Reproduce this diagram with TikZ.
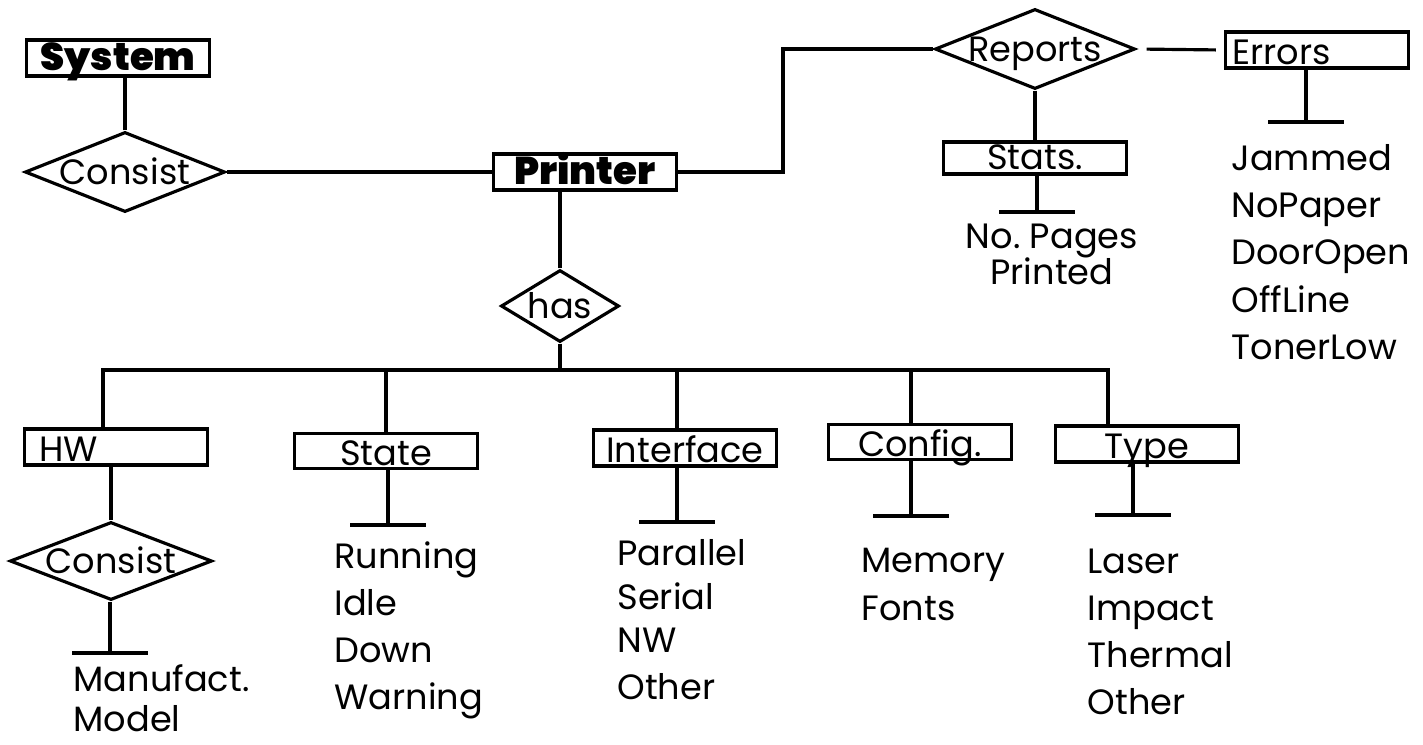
\documentclass[tikz,border=0pt]{standalone}
\usepackage{fontspec}
\setmainfont{Poppins}
\newfontfamily\heavyfont{Poppins Black}
\usepackage{tikz}
\usetikzlibrary{shapes.geometric, positioning}

\begin{document}
\begin{tikzpicture}[
  x=0.01cm, y=-0.01cm,
  line width=0.9pt,
  font=\fontsize{10pt}{13.4pt}\selectfont,
  ent/.style={rectangle, draw, minimum width=1.83cm, minimum height=0.36cm, inner sep=0pt,
              text height=0.30cm, text depth=0.02cm},
  entb/.style={ent, text height=0.27cm, text depth=0.03cm, font=\fontsize{11pt}{13pt}\selectfont\heavyfont},
  entl/.style={ent, align=left},
  rel/.style={diamond, draw, inner sep=0pt, minimum width=#1, minimum height=0.8cm},
  every label/.style={inner sep=0pt, text height=0.27cm, text depth=0.03cm},
  attr/.style={inner sep=0pt, align=left},
]
  \useasboundingbox (0,0) rectangle (1423,744);

  % Top part
  \node[entb] (system) at (118,58) {System};
  \node[rel=2cm, label=center:Consist] (cons1) at (125,172) {};
  \node[entb] (printer) at (585,172) {Printer};
  \node[rel=1.18cm, minimum height=0.72cm, label=center:has] (has) at (560,306) {};
  \node[rel=2cm, label=center:Reports] (reports) at (1035,49) {};
  \node[ent, minimum height=0.3cm, text height=0.27cm, text depth=0.05cm] (stats) at (1035,158) {Stats.};
  \node[entl, text width=1.69cm, inner xsep=0.07cm] (errors) at (1317,50) {Errors};

  % Entities under has
  \node[entl, text width=1.53cm, inner xsep=0.15cm] (hw) at (116,447) {HW};
  \node[rel=2.02cm, minimum height=0.78cm, label=center:Consist] (cons2) at (111,561) {};
  \node[ent, minimum height=0.35cm] (state) at (386,451) {State};
  \node[ent] (iface) at (685,448) {Interface};
  \node[ent, minimum height=0.35cm] (config) at (920,442) {Config.};
  \node[ent] (type) at (1147,444) {Type};

  \coordinate (busL) at (103,370);
  \coordinate (busR) at (1108,370);
  \coordinate (jog) at (783,172);
  \coordinate (hwbar) at (110,653);
  \coordinate (statebar) at (388,525);
  \coordinate (ifacebar) at (677,522);
  \coordinate (configbar) at (911,516);
  \coordinate (typebar) at (1133,515);
  \coordinate (statsbar) at (1037,212);
  \coordinate (errbar) at (1306,122);

  % Links
  \draw (cons1.north) -- (cons1.north |- system.south);
  \draw (cons1.east) -- (printer.west);
  \draw (printer.east) -- (jog) |- (reports.west);
  \draw[shorten <=0.1cm, shorten >=0.08cm] (reports.east) -- (errors.west);
  \draw (reports.south) -- (stats.north);
  \draw (has.north) -- (has.north |- printer.south);
  \draw (has.south) -- (has.south |- busL);
  \draw (busL |- hw.north) -- (busL) -- (busR) -- (busR |- type.north);
  \draw (state.north) -- (state.north |- busL);
  \draw (ifacebar |- busL) -- (ifacebar |- iface.north);
  \draw (configbar |- busL) -- (configbar |- config.north);
  \draw (cons2.north) -- (cons2.north |- hw.south);

  % Attribute bars
  \foreach \b/\e in {hwbar/cons2, statebar/state, ifacebar/iface, configbar/config,
                     typebar/type, statsbar/stats, errbar/errors} {
    \draw (\b) -- (\b |- \e.south);
    \draw ([xshift=-0.375cm]\b) -- ([xshift=0.375cm]\b);
  }

  % Attribute values
  \node[attr, below right=0.10cm and -0.38cm of hwbar] (hwattr) {Manufact.\\[-2pt]Model};
  \node[attr, below right=0.15cm and -0.55cm of statebar] (stateattr) {Running\\Idle\\Down\\Warning};
  \node[attr, below right=0.16cm and -0.61cm of ifacebar] (ifaceattr) {Parallel\\[-1pt]Serial\\[-1pt]NW\\Other};
  \node[attr, below right=0.31cm and -0.51cm of configbar] (configattr) {Memory\\Fonts};
  \node[attr, below right=0.32cm and -0.47cm of typebar] (typeattr) {Laser\\Impact\\Thermal\\Other};
  \node[attr, align=center, below=0.10cm of statsbar, xshift=0.15cm] (statsattr) {No.\ Pages\\[-3pt]Printed};
  \node[attr, below right=0.21cm and -0.76cm of errbar] (errattr) {Jammed\\NoPaper\\DoorOpen\\OffLine\\TonerLow};
\end{tikzpicture}
\end{document}
